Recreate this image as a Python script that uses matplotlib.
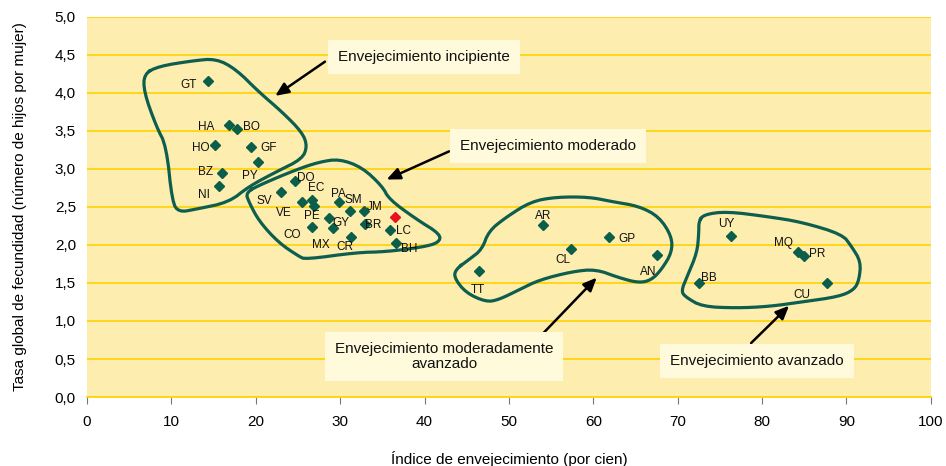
import numpy as np
import matplotlib
matplotlib.use("Agg")
import matplotlib.pyplot as plt

plt.rcParams['font.family'] = ['Liberation Sans', 'DejaVu Sans']

# countries: code, indice de envejecimiento, tasa global de fecundidad
codes = ["GT", "HA", "BO", "HO", "GF", "PY", "BZ", "NI",
         "DO", "SV", "VE", "EC", "PE", "CO", "PA", "SM", "JM", "GY", "MX", "BR", "CR", "LC", "BH",
         "AR", "GP", "CL", "AN", "TT",
         "UY", "MQ", "PR", "BB", "CU"]
indice = [14.3, 16.8, 17.8, 15.2, 19.4, 20.3, 16.0, 15.6,
          24.6, 23.0, 25.5, 26.7, 26.9, 26.7, 29.9, 31.2, 32.8, 28.7, 29.1, 32.9, 31.3, 35.9, 36.6,
          54.0, 61.8, 57.3, 67.5, 46.5,
          76.3, 84.2, 85.0, 72.5, 87.7]
tgf = [4.16, 3.58, 3.52, 3.31, 3.29, 3.09, 2.95, 2.77,
       2.84, 2.70, 2.57, 2.59, 2.51, 2.23, 2.57, 2.44, 2.44, 2.35, 2.22, 2.27, 2.10, 2.19, 2.03,
       2.26, 2.11, 1.95, 1.87, 1.66,
       2.12, 1.91, 1.85, 1.50, 1.50]
# label offsets in pixels
lab_off = [(-19, -4), (-23, -2), (14, 2), (-15, -3), (18, -1), (-8, -14), (-16, 1), (-15, -9),
           (11, 3), (-17, -9), (-18, -11), (4, 12), (-2, -10), (-20, -8), (-1, 8), (3, 11), (11, 4),
           (12, -5), (-12, -17), (9, -1), (-6, -10), (14, -1), (13, -6),
           (0, 9), (18, -2), (-8, -11), (-8, -17), (-2, -19),
           (-5, 12), (-14, 9), (13, 2), (10, 5), (-25, -12)]
# highlighted point (red)
red_x = [36.5]
red_y = [2.37]

# group outlines (x, y)
outline1 = [(6.75, 4.25), (8.53, 4.35), (12.44, 4.42), (15.28, 4.45), (17.65, 4.31), (20.38, 4.01),
            (23.1, 3.75), (25.5, 3.48), (26.1, 3.30), (25.5, 3.13), (22.4, 2.96), (19.2, 2.77),
            (16.8, 2.56), (12.9, 2.47), (10.9, 2.43), (10.1, 2.56), (9.4, 3.30), (8.2, 3.56), (6.75, 4.01)]
outline2 = [(18.8, 2.69), (20.7, 2.80), (24.8, 2.99), (27.5, 3.09), (29.9, 3.13), (32.6, 3.02),
            (35.0, 2.77), (35.8, 2.60), (39.0, 2.34), (41.9, 2.14), (41.7, 2.03), (39.7, 1.97),
            (35.4, 1.91), (31.9, 1.90), (25.9, 1.81), (25.1, 1.85), (22.7, 2.03), (20.4, 2.31), (19.2, 2.56)]
outline3 = [(43.7, 1.68), (45.3, 1.81), (46.8, 1.94), (47.6, 2.18), (49.6, 2.36), (52.6, 2.57),
            (55.6, 2.63), (59.5, 2.63), (62.2, 2.57), (65.4, 2.51), (67.8, 2.37), (69.3, 2.11),
            (69.3, 1.90), (68.1, 1.68), (66.9, 1.54), (65.4, 1.50), (63.0, 1.57), (60.3, 1.68),
            (57.5, 1.65), (53.6, 1.54), (51.2, 1.41), (48.8, 1.28), (47.3, 1.25), (44.9, 1.37), (43.5, 1.57)]
outline4 = [(72.5, 2.31), (73.1, 2.40), (75.8, 2.44), (80.8, 2.37), (84.7, 2.30), (89.5, 2.14),
            (90.6, 1.98), (91.7, 1.78), (91.5, 1.54), (90.9, 1.41), (89.1, 1.32), (84.7, 1.25),
            (80.8, 1.19), (76.9, 1.17), (72.9, 1.19), (71.0, 1.31), (70.4, 1.39), (71.1, 1.58),
            (72.3, 1.90), (72.5, 2.16)]

# callouts: text, box centre, arrow tail, arrow tip
box_text = ["Envejecimiento incipiente", "Envejecimiento moderado",
            "Envejecimiento moderadamente\navanzado", "Envejecimiento avanzado"]
box_xy = [(39.9, 4.47), (54.6, 3.30), (42.3, 0.53), (79.4, 0.47)]
arrow_tail = [(28.2, 4.41), (42.9, 3.23), (53.9, 0.82), (78.7, 0.71)]
arrow_tip = [(22.3, 3.96), (35.5, 2.86), (60.4, 1.57), (83.2, 1.20)]


def chaikin(pts, n=2):
    p = np.array(pts)
    for _ in range(n):
        q = np.roll(p, -1, axis=0)
        p = np.vstack([0.75 * p + 0.25 * q, 0.25 * p + 0.75 * q]).reshape(2, -1, 2).transpose(1, 0, 2).reshape(-1, 2)
    return np.vstack([p, p[:1]])


fig = plt.figure(figsize=(9.46, 4.66), dpi=100)
ax = fig.add_axes([0.092, 0.148, 0.892, 0.816])
ax.set_facecolor("#fdedae")
ax.set_xlim(0, 100)
ax.set_ylim(0, 5)
ax.set_xticks(np.arange(0, 101, 10))
ax.set_yticks(np.arange(0, 5.01, 0.5))
ax.set_yticklabels([f"{v:.1f}".replace(".", ",") for v in np.arange(0, 5.01, 0.5)])
ax.grid(axis="y", color="#ffd200", lw=1.2)
ax.set_axisbelow(True)
for s in ["top", "right", "left"]:
    ax.spines[s].set_visible(False)
ax.spines["bottom"].set_color("#ffd200")
ax.spines["bottom"].set_linewidth(1.2)
ax.tick_params(axis="y", length=0, labelsize=11, pad=8)
ax.tick_params(axis="x", length=5, color="#777777", labelsize=11, pad=8)

for outline in [outline1, outline2, outline3, outline4]:
    c = chaikin(outline)
    ax.plot(c[:, 0], c[:, 1], color="#0d5e4e", lw=2.3, zorder=3)

ax.plot(indice, tgf, "D", color="#0a5e4a", ms=5.5, mec="#0a5e4a", ls="none", zorder=4)
ax.plot(red_x, red_y, "D", color="#e8101e", ms=5.5, ls="none", zorder=4)
for c, x, y, off in zip(codes, indice, tgf, lab_off):
    ax.annotate(c, (x, y), xytext=off, textcoords="offset pixels",
                ha="center", va="center", fontsize=8.5, color="#111111", zorder=5)

for t, bxy, tail, tip in zip(box_text, box_xy, arrow_tail, arrow_tip):
    ax.annotate("", xy=tip, xytext=tail,
                arrowprops=dict(arrowstyle="-|>,head_length=0.8,head_width=0.35", color="black", lw=1.8,
                                shrinkA=0, shrinkB=0), zorder=5)
    ax.text(bxy[0], bxy[1], t, ha="center", va="center", fontsize=11, color="#111111",
            linespacing=1.1, zorder=6,
            bbox=dict(boxstyle="square,pad=0.65", fc="#fffadb", ec="none"))

ax.set_xlabel("Índice de envejecimiento (por cien)", fontsize=11, labelpad=16)
ax.set_ylabel("Tasa global de fecundidad (número de hijos por mujer)", fontsize=11, labelpad=20)

fig.savefig("out.png", dpi=100)
